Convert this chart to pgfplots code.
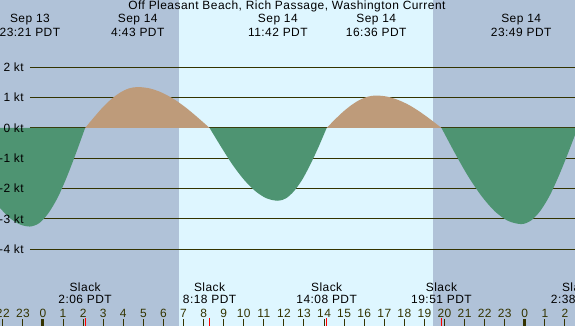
\documentclass[12pt,border=0pt]{standalone}
\usepackage{fontspec}
\setmainfont{Liberation Sans}[LetterSpace=4.0]
\usepackage{pgfplots}
\pgfplotsset{compat=1.18}
\definecolor{night}{RGB}{176,194,216}
\definecolor{day}{RGB}{222,246,255}
\definecolor{flood}{RGB}{190,155,122}
\definecolor{ebb}{RGB}{78,148,114}
\definecolor{textc}{RGB}{51,51,0}
\begin{document}
\begin{tikzpicture}
\begin{axis}[
  width=575bp, height=326bp, scale only axis,
  xmin=-2.14, xmax=26.5, ymin=-6.53, ymax=4.22,
  axis x line=bottom, axis y line=none,
  axis line style={draw=none},
  axis on top,
  axis background/.style={fill=night},
  xtick={-2,...,26},
  xticklabels={22,23,0,1,2,3,4,5,6,7,8,9,10,11,12,13,14,15,16,17,18,19,20,21,22,23,0,1,2},
  tick align=inside, major tick length=7bp,
  tick style={draw=textc, line width=1bp},
  xticklabel style={anchor=base, yshift=9bp, text=textc},
  every node/.append style={text=textc, inner sep=0pt},
  clip=true,
]
\coordinate (bl) at (rel axis cs:0,0);
\coordinate (tr) at (rel axis cs:1,1);
% daylight
\fill[day] (axis cs:6.77,-7) rectangle (axis cs:19.42,5);
% grid lines
\draw[textc, line width=1bp] (axis cs:-0.647,2) -- (axis cs:27,2);
\draw[textc, line width=1bp] (axis cs:-0.647,1) -- (axis cs:27,1);
\draw[textc, line width=1bp] (axis cs:-0.647,0) -- (axis cs:27,0);
\draw[textc, line width=1bp] (axis cs:-0.647,-1) -- (axis cs:27,-1);
\draw[textc, line width=1bp] (axis cs:-0.647,-2) -- (axis cs:27,-2);
\draw[textc, line width=1bp] (axis cs:-0.647,-3) -- (axis cs:27,-3);
\draw[textc, line width=1bp] (axis cs:-0.647,-4) -- (axis cs:27,-4);
% ebb / flood
\addplot[draw=none, fill=ebb, smooth] coordinates {(-2.40,-2.42) (-2.14,-2.64) (-1.65,-2.97) (-1.15,-3.18) (-0.65,-3.25) (-0.19,-3.14) (0.27,-2.81) (0.73,-2.30) (1.18,-1.63) (1.64,-0.84) (2.10,0)} \closedcycle;
\addplot[draw=none, fill=flood, smooth] coordinates {(2.10,0) (2.54,0.35) (2.97,0.675) (3.41,0.955) (3.85,1.169) (4.28,1.304) (4.72,1.35) (5.32,1.304) (5.91,1.169) (6.51,0.955) (7.11,0.675) (7.70,0.35) (8.30,0)} \closedcycle;
\addplot[draw=none, fill=ebb, smooth] coordinates {(8.30,0) (8.87,-0.621) (9.43,-1.2) (10.00,-1.697) (10.57,-2.078) (11.13,-2.318) (11.70,-2.4) (12.11,-2.318) (12.51,-2.078) (12.92,-1.697) (13.32,-1.2) (13.73,-0.621) (14.13,0)} \closedcycle;
\addplot[draw=none, fill=flood, smooth] coordinates {(14.13,0) (14.54,0.277) (14.95,0.535) (15.37,0.757) (15.78,0.927) (16.19,1.034) (16.60,1.07) (17.14,1.034) (17.68,0.927) (18.23,0.757) (18.77,0.535) (19.31,0.277) (19.85,0)} \closedcycle;
\addplot[draw=none, fill=ebb, smooth] coordinates {(19.85,0) (20.51,-0.820) (21.17,-1.585) (21.84,-2.242) (22.50,-2.745) (23.16,-3.062) (23.82,-3.17) (24.29,-3.062) (24.76,-2.745) (25.23,-2.242) (25.69,-1.585) (26.16,-0.820) (26.63,0)} \closedcycle;
% y labels
\node[anchor=east] at (axis cs:-0.747,2) {2 kt};
\node[anchor=east] at (axis cs:-0.747,1) {1 kt};
\node[anchor=east] at (axis cs:-0.747,0) {0 kt};
\node[anchor=east] at (axis cs:-0.747,-1) {-1 kt};
\node[anchor=east] at (axis cs:-0.747,-2) {-2 kt};
\node[anchor=east] at (axis cs:-0.747,-3) {-3 kt};
\node[anchor=east] at (axis cs:-0.747,-4) {-4 kt};
% midnight and slack ticks
\draw[textc, line width=3bp] (axis cs:0,-6.53) -- (axis cs:0,-6.30);
\draw[textc, line width=3bp] (axis cs:24,-6.53) -- (axis cs:24,-6.30);
\draw[red, line width=1bp] (axis cs:2.1,-6.53) -- (axis cs:2.1,-6.27);
\draw[red, line width=1bp] (axis cs:8.3,-6.53) -- (axis cs:8.3,-6.27);
\draw[red, line width=1bp] (axis cs:14.13,-6.53) -- (axis cs:14.13,-6.27);
\draw[red, line width=1bp] (axis cs:19.85,-6.53) -- (axis cs:19.85,-6.27);
% title and event labels
\node at (axis cs:12.15,3.993) {Off Pleasant Beach, Rich Passage, Washington Current};
\node at (axis cs:-0.65,3.564) {Sep 13};
\node at (axis cs:-0.65,3.168) {23:21 PDT};
\node at (axis cs:4.72,3.564) {Sep 14};
\node at (axis cs:4.72,3.168) {4:43 PDT};
\node at (axis cs:11.70,3.564) {Sep 14};
\node at (axis cs:11.70,3.168) {11:42 PDT};
\node at (axis cs:16.60,3.564) {Sep 14};
\node at (axis cs:16.60,3.168) {16:36 PDT};
\node at (axis cs:23.82,3.564) {Sep 14};
\node at (axis cs:23.82,3.168) {23:49 PDT};
\node at (axis cs:2.1,-5.248) {Slack};
\node at (axis cs:2.1,-5.644) {2:06 PDT};
\node at (axis cs:8.3,-5.248) {Slack};
\node at (axis cs:8.3,-5.644) {8:18 PDT};
\node at (axis cs:14.13,-5.248) {Slack};
\node at (axis cs:14.13,-5.644) {14:08 PDT};
\node at (axis cs:19.85,-5.248) {Slack};
\node at (axis cs:19.85,-5.644) {19:51 PDT};
\node at (axis cs:26.63,-5.248) {Slack};
\node at (axis cs:26.63,-5.644) {2:38 PDT};
\end{axis}
\pgfresetboundingbox
\path[use as bounding box] (bl) rectangle (tr);
\end{tikzpicture}
\end{document}
